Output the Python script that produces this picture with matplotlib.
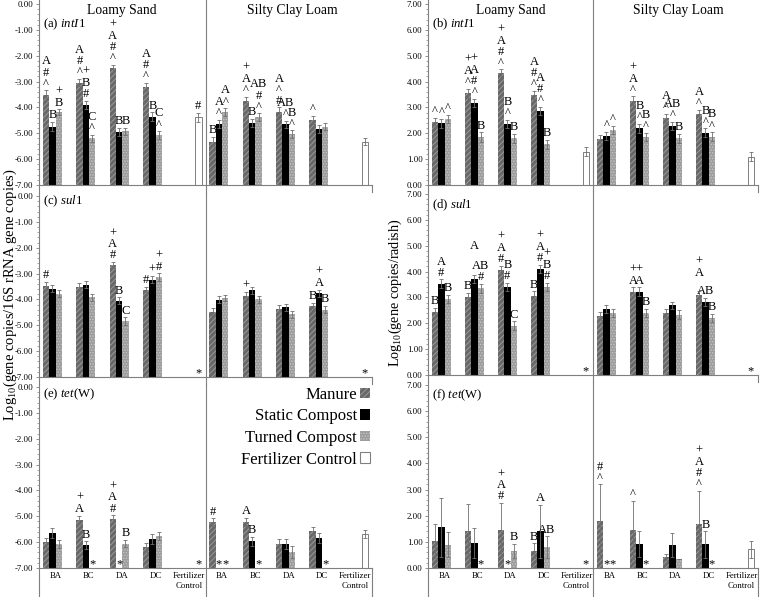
import numpy as np
import matplotlib
matplotlib.use('Agg')
import matplotlib.pyplot as plt
from matplotlib.patches import Patch
import matplotlib.transforms as mtrans

plt.rcParams['font.family'] = ['Liberation Serif', 'DejaVu Serif']
plt.rcParams['mathtext.fontset'] = 'custom'
plt.rcParams['mathtext.rm'] = 'Liberation Serif'
plt.rcParams['mathtext.it'] = 'Liberation Serif:italic'
plt.rcParams['hatch.linewidth'] = 0.7

nan = np.nan

# ---------------- data ----------------
categories = ['BA', 'BC', 'DA', 'DC', 'Fertilizer\nControl'] * 2
soils = ['Loamy Sand', 'Silty Clay Loam']
series = ['Manure', 'Static Compost', 'Turned Compost', 'Fertilizer Control']

# (a) intI1 relative abundance
a_manure = [-3.52, -3.04, -2.49, -3.20, nan, -5.32, -3.75, -4.16, -4.48, nan]
a_static = [-4.74, -3.90, -4.94, -4.36, nan, -4.64, -4.61, -4.66, -4.83, nan]
a_turned = [-4.19, -5.19, -4.92, -5.07, nan, -4.19, -4.38, -5.04, -4.74, nan]
a_fert = [nan, nan, nan, nan, -4.38, nan, nan, nan, nan, -5.32]
a_manure_err = [0.18, 0.15, 0.13, 0.16, nan, 0.18, 0.17, 0.16, 0.15, nan]
a_static_err = [0.18, 0.15, 0.15, 0.17, nan, 0.16, 0.16, 0.15, 0.15, nan]
a_turned_err = [0.12, 0.13, 0.13, 0.15, nan, 0.16, 0.15, 0.15, 0.15, nan]
a_fert_err = [nan, nan, nan, nan, 0.17, nan, nan, nan, nan, 0.15]

# (b) intI1 per radish
b_manure = [2.42, 3.55, 4.32, 3.47, nan, 1.77, 3.26, 2.58, 2.73, nan]
b_static = [2.39, 3.18, 2.36, 2.86, nan, 1.89, 2.19, 2.28, 2.02, nan]
b_turned = [2.54, 1.86, 1.81, 1.57, nan, 2.13, 1.87, 1.81, 1.87, nan]
b_fert = [nan, nan, nan, nan, 1.29, nan, nan, nan, nan, 1.09]
b_manure_err = [0.18, 0.17, 0.15, 0.16, nan, 0.16, 0.17, 0.18, 0.18, nan]
b_static_err = [0.17, 0.16, 0.17, 0.17, nan, 0.16, 0.17, 0.16, 0.17, nan]
b_turned_err = [0.16, 0.18, 0.18, 0.18, nan, 0.17, 0.16, 0.17, 0.17, nan]
b_fert_err = [nan, nan, nan, nan, 0.17, nan, nan, nan, nan, 0.17]

# (c) sul1 relative abundance
c_manure = [-3.47, -3.52, -2.68, -3.65, nan, -4.47, -3.88, -4.36, -4.27, nan]
c_static = [-3.59, -3.43, -4.05, -3.24, nan, -4.01, -3.65, -4.31, -3.76, nan]
c_turned = [-3.78, -3.92, -4.83, -3.13, nan, -3.95, -3.99, -4.57, -4.40, nan]
c_fert = [nan] * 10
c_manure_err = [0.15, 0.14, 0.12, 0.14, nan, 0.14, 0.15, 0.14, 0.14, nan]
c_static_err = [0.14, 0.14, 0.13, 0.14, nan, 0.14, 0.13, 0.13, 0.14, nan]
c_turned_err = [0.13, 0.13, 0.14, 0.14, nan, 0.13, 0.14, 0.13, 0.14, nan]
c_fert_err = [nan] * 10

# (d) sul1 per radish
d_manure = [2.42, 3.01, 4.07, 3.07, nan, 2.29, 3.22, 2.40, 3.09, nan]
d_static = [3.53, 3.71, 3.40, 4.11, nan, 2.55, 3.22, 2.69, 2.83, nan]
d_turned = [2.94, 3.35, 1.91, 3.40, nan, 2.40, 2.40, 2.33, 2.20, nan]
d_fert = [nan] * 10
d_manure_err = [0.17, 0.17, 0.15, 0.17, nan, 0.16, 0.17, 0.17, 0.17, nan]
d_static_err = [0.17, 0.16, 0.17, 0.15, nan, 0.16, 0.17, 0.15, 0.16, nan]
d_turned_err = [0.17, 0.17, 0.17, 0.17, nan, 0.16, 0.17, 0.17, 0.16, nan]
d_fert_err = [nan] * 10

# (e) tet(W) relative abundance
e_manure = [-6.01, -5.13, -5.10, -6.20, nan, -5.23, -5.23, -6.06, -5.58, nan]
e_static = [-5.65, -6.12, nan, -5.88, nan, nan, -5.97, -6.07, -5.84, nan]
e_turned = [-6.07, nan, -6.06, -5.77, nan, nan, nan, -6.39, nan, nan]
e_fert = [nan, nan, nan, nan, nan, nan, nan, nan, nan, -5.68]
e_manure_err = [0.18, 0.15, 0.14, 0.18, nan, 0.15, 0.16, 0.18, 0.15, nan]
e_static_err = [0.18, 0.15, nan, 0.18, nan, nan, 0.17, 0.18, 0.18, nan]
e_turned_err = [0.15, nan, 0.14, 0.15, nan, nan, nan, 0.24, nan, nan]
e_fert_err = [nan, nan, nan, nan, nan, nan, nan, nan, nan, 0.15]

# (f) tet(W) per radish
f_manure = [1.04, 1.42, 1.46, 0.66, nan, 1.80, 1.46, 0.42, 1.69, nan]
f_static = [1.55, 0.95, nan, 1.40, nan, nan, 0.93, 0.88, 0.90, nan]
f_turned = [0.89, nan, 0.66, 0.79, nan, nan, nan, 0.34, nan, nan]
f_fert = [nan, nan, nan, nan, nan, nan, nan, nan, nan, 0.72]
f_manure_err = [0.64, 1.03, 1.02, 0.28, nan, 1.40, 1.11, 0.12, 1.27, nan]
f_static_err = [1.12, 0.57, nan, 1.02, nan, nan, 0.50, 0.46, 0.50, nan]
f_turned_err = [0.48, nan, 0.27, 0.42, nan, nan, nan, 0.0, nan, nan]
f_fert_err = [nan, nan, nan, nan, nan, nan, nan, nan, nan, 0.33]

# significance symbols: (category, series) -> stack from bottom to top ('' = blank line)
a_marks = {(0, 0): ['^', '#', 'A'], (0, 1): ['B'], (0, 2): ['B', '+'],
           (1, 0): ['^', '#', 'A'], (1, 1): ['#', 'B', '+'], (1, 2): ['^', 'C'],
           (2, 0): ['^', '#', 'A', '+'], (2, 1): ['B'], (2, 2): ['B'],
           (3, 0): ['^', '#', 'A'], (3, 1): ['B'], (3, 2): ['^', 'C'],
           (4, 3): ['#'],
           (5, 0): ['B'], (5, 1): ['^', 'A'], (5, 2): ['^', 'A'],
           (6, 0): ['^', 'A', '+'], (6, 1): ['B'], (6, 2): ['^', '#', 'AB'],
           (7, 0): ['#', '^', 'A'], (7, 1): ['^', 'AB'], (7, 2): ['^', 'B'],
           (8, 0): ['^']}
b_marks = {(0, 0): ['^'], (0, 1): ['^'], (0, 2): ['^'],
           (1, 0): ['^', 'A', '+'], (1, 1): ['^', '#', 'A', '+'], (1, 2): ['B'],
           (2, 0): ['^', '#', 'A', '+'], (2, 1): ['^', 'B'], (2, 2): ['B'],
           (3, 0): ['^', '#', 'A'], (3, 1): ['^', '#', 'A'], (3, 2): ['B'],
           (5, 1): ['^'], (5, 2): ['^'],
           (6, 0): ['^', 'A', '+'], (6, 1): ['^', 'B'], (6, 2): ['^', 'B'],
           (7, 0): ['^', 'A'], (7, 1): ['^', 'AB'], (7, 2): ['B'],
           (8, 0): ['^', 'A'], (8, 1): ['^', 'B'], (8, 2): ['^', 'B']}
c_marks = {(0, 0): ['#'],
           (2, 0): ['#', 'A', '+'], (2, 1): ['B'], (2, 2): ['C'],
           (3, 0): ['#'], (3, 1): ['+'], (3, 2): ['#', '+'],
           (6, 0): ['+'],
           (8, 0): ['B'], (8, 1): ['A', '+'], (8, 2): ['B']}
d_marks = {(0, 0): ['B'], (0, 1): ['#', 'A'], (0, 2): ['B'],
           (1, 0): ['B'], (1, 1): ['', '', 'A'], (1, 2): ['#', 'AB'],
           (2, 0): ['#', 'A', '+'], (2, 1): ['#', 'B'], (2, 2): ['C'],
           (3, 0): ['B'], (3, 1): ['#', 'A', '+'], (3, 2): ['#', 'B', '+'],
           (6, 0): ['A', '+'], (6, 1): ['A', '+'], (6, 2): ['B'],
           (8, 0): ['', 'A', '+'], (8, 1): ['AB'], (8, 2): ['B']}
e_marks = {(1, 0): ['A', '+'], (1, 1): ['B'],
           (2, 0): ['#', 'A', '+'], (2, 2): ['B'],
           (5, 0): ['#'],
           (6, 0): ['A'], (6, 1): ['B']}
f_marks = {(2, 0): ['#', 'A', '+'], (2, 2): ['B'],
           (3, 0): ['B'], (3, 1): ['A'], (3, 2): ['AB'],
           (5, 0): ['^', '#'],
           (6, 0): ['^'],
           (8, 0): ['^', '#', 'A', '+'], (8, 1): ['B']}
# below detection (category, series)
c_stars = [(4, 3), (9, 3)]
d_stars = [(4, 3), (9, 3)]
e_stars = [(1, 2), (2, 1), (4, 3), (5, 1), (5, 2), (6, 2), (8, 2)]
f_stars = [(1, 2), (2, 1), (4, 3), (5, 1), (5, 2), (6, 2), (8, 2)]

panels = [
    ('(a) ', r'$\mathit{intI1}$', '', [a_manure, a_static, a_turned, a_fert],
     [a_manure_err, a_static_err, a_turned_err, a_fert_err], a_marks, []),
    ('(b) ', r'$\mathit{intI1}$', '', [b_manure, b_static, b_turned, b_fert],
     [b_manure_err, b_static_err, b_turned_err, b_fert_err], b_marks, []),
    ('(c) ', r'$\mathit{sul1}$', '', [c_manure, c_static, c_turned, c_fert],
     [c_manure_err, c_static_err, c_turned_err, c_fert_err], c_marks, c_stars),
    ('(d) ', r'$\mathit{sul1}$', '', [d_manure, d_static, d_turned, d_fert],
     [d_manure_err, d_static_err, d_turned_err, d_fert_err], d_marks, d_stars),
    ('(e) ', r'$\mathit{tet}$', '(W)', [e_manure, e_static, e_turned, e_fert],
     [e_manure_err, e_static_err, e_turned_err, e_fert_err], e_marks, e_stars),
    ('(f) ', r'$\mathit{tet}$', '(W)', [f_manure, f_static, f_turned, f_fert],
     [f_manure_err, f_static_err, f_turned_err, f_fert_err], f_marks, f_stars),
]

# ---------------- styling ----------------
styles = [
    dict(facecolor='#686868', edgecolor='#9a9a9a', hatch='//////', linewidth=0),
    dict(facecolor='#000000', edgecolor='#000000', linewidth=0),
    dict(facecolor='#9c9c9c', edgecolor='#c4c4c4', hatch='......', linewidth=0),
    dict(facecolor='#ffffff', edgecolor='#808080', linewidth=0.7),
]
LINE = '#7f7f7f'
BW = 0.19
offsets = (np.arange(4) - 1.5) * BW

W, H = 760, 597
fig = plt.figure(figsize=(W / 100, H / 100), dpi=100)
cols = [(39, 372), (428, 758)]
rows_by_col = [[(4, 185), (196, 377), (387, 568)],
               [(4, 185), (194, 375), (385, 568)]]
label_y = [0.89, 0.89, 0.97, 0.94, 0.96, 0.945]

axes = []
for i, (pfx, it, tail, vals, errs, marks, stars) in enumerate(panels):
    c, r = i % 2, i // 2
    rows = rows_by_col[c]
    x0, x1 = cols[c]
    y0, y1 = rows[r]
    ax = fig.add_axes([x0 / W, 1 - y1 / H, (x1 - x0) / W, (y1 - y0) / H])
    axes.append(ax)
    ymin, ymax = (-7, 0) if c == 0 else (0, 7)
    ax.set_xlim(0, 10)
    ax.set_ylim(ymin, ymax)
    for s in range(4):
        v = np.array(vals[s], float)
        e = np.array(errs[s], float)
        x = np.arange(10) + 0.5 + offsets[s]
        m = ~np.isnan(v)
        if m.any():
            ax.bar(x[m], v[m] - ymin, bottom=ymin, width=BW, zorder=2, **styles[s])
            ax.errorbar(x[m], v[m], yerr=e[m], fmt='none', ecolor='#6f6f6f',
                        elinewidth=0.6, capsize=1.3, capthick=0.6, zorder=3)
    for (cat, s), stack in marks.items():
        xx = cat + 0.5 + offsets[s]
        base = vals[s][cat] + errs[s][cat]
        for k, sym in enumerate(stack):
            if sym:
                ax.annotate(sym, (xx, base), xytext=(0, 0.5 + k * 8), textcoords='offset points',
                            ha='center', va='bottom', fontsize=9, zorder=4)
    for (cat, s) in stars:
        xx = cat + 0.5 + offsets[s]
        ax.annotate('*', (xx, ymin), xytext=(0, -2), textcoords='offset points',
                    ha='center', va='bottom', fontsize=9, zorder=4)

    # axes styling
    for sp in ['top', 'right', 'left']:
        ax.spines[sp].set_visible(False)
    ax.spines['bottom'].set_color(LINE)
    ax.spines['bottom'].set_linewidth(0.8)
    yt = np.arange(ymin, ymax + 0.01, 1)
    ax.set_yticks(yt)
    ax.set_yticklabels([f'{t:.2f}' for t in yt])
    ax.set_yticks(np.arange(ymin, ymax + 0.01, 0.2), minor=True)
    ax.tick_params(axis='y', which='major', length=2.5, width=0.6, color=LINE,
                   labelsize=6.3, pad=1.5)
    ax.tick_params(axis='y', which='minor', length=1.3, width=0.5, color=LINE)
    if r == 2:
        ax.set_xticks(np.arange(10) + 0.5)
        ax.set_xticklabels(categories, fontsize=6.3, linespacing=1.25)
        ax.tick_params(axis='x', length=0, pad=3)
    else:
        ax.set_xticks([])
    ax.text(0.012, label_y[i], pfx + it + tail, transform=ax.transAxes,
            fontsize=9.2, ha='left', va='center')
    if r == 0:
        ax.text(2.5, 0.965, soils[0], transform=ax.get_xaxis_transform(),
                fontsize=9.8, ha='center', va='center')
        ax.text(7.6, 0.965, soils[1], transform=ax.get_xaxis_transform(),
                fontsize=9.8, ha='center', va='center')

    # separator lines
    tr = mtrans.blended_transform_factory(ax.transData, fig.transFigure)
    top_f = 1 - y0 / H
    bot_f = 1 - y1 / H
    below = 0.0 if r == 2 else 1 - (y1 + 7) / H
    start = 1.0 if r == 0 else top_f + 3.0 / H
    next_f = 0.0 if r == 2 else 1 - (rows[r + 1][0] - 3) / H
    for xv in (0, 5):
        ax.plot([xv, xv], [start, next_f], transform=tr, color=LINE, lw=0.8,
                clip_on=False, zorder=5)
    ax.plot([10, 10], [bot_f, below], transform=tr, color=LINE, lw=0.8,
            clip_on=False, zorder=5)

# legend in (e)
handles = [Patch(**styles[s]) for s in range(4)]
handles[1] = Patch(facecolor='#000000', edgecolor='#000000', linewidth=0)
handles[3] = Patch(facecolor='#ffffff', edgecolor='#808080', linewidth=0.8)
axes[4].legend(handles, series, loc='upper right', bbox_to_anchor=(0.995, 1.0),
               frameon=False, markerfirst=False, fontsize=12, handlelength=0.6,
               handleheight=0.6, handletextpad=0.2, labelspacing=0.33,
               borderaxespad=0, borderpad=0)

fig.text(10 / W, 1 - 295 / H, r'Log$_{10}$(gene copies/16S rRNA gene copies)',
         rotation=90, ha='center', va='center', fontsize=10.5)
fig.text(395 / W, 1 - 293 / H, r'Log$_{10}$(gene copies/radish)',
         rotation=90, ha='center', va='center', fontsize=10.2)

fig.savefig('out.png', dpi=100)
